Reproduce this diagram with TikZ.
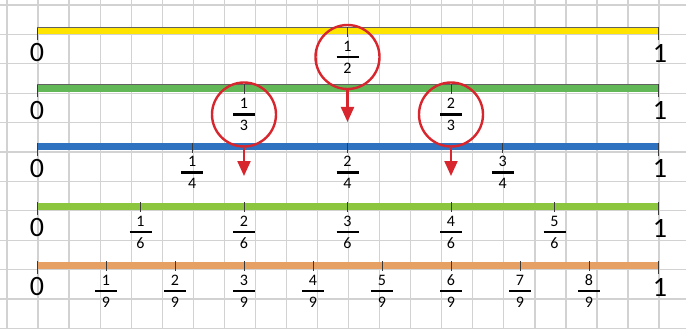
\documentclass[tikz,border=0pt]{standalone}
\usepackage{fontspec}
\setmainfont{Carlito}
\usetikzlibrary{arrows.meta}
\definecolor{gridgray}{HTML}{D2D2D2}
\definecolor{tickgray}{HTML}{3A3A3A}
\definecolor{baryellow}{HTML}{FFE400}
\definecolor{bargreen}{HTML}{62B856}
\definecolor{barblue}{HTML}{2E72C0}
\definecolor{barlime}{HTML}{8CC63F}
\definecolor{barorange}{HTML}{E6A063}
\definecolor{ringred}{HTML}{D7262E}
\newcommand\fracmark[5]{%
  \draw[tickmark] (#1,#2-4) -- (#1,#2+6);
  \node[fraclab] (num-#5) at (#1,#2+15) {#3};
  \draw[fracbar] (#1-11,#2+26) -- (#1+11,#2+26);
  \node[fraclab] (den-#5) at (#1,#2+37) {#4};}
\newcommand\myNumLine[3]{%
  \fill[#2] (37,#1-3.5) rectangle (658,#1+3.5);
  \draw[tickmark] (37,#1-4) -- (37,#1+9);
  \draw[tickmark] (658,#1-4) -- (658,#1+9);
  \node[endlab] (zero-#3) at (37,#1+22) {0};
  \node[endlab] (one-#3) at (660,#1+22) {1};}
\begin{document}
\begin{tikzpicture}[x=1pt,y=-1pt,
  gridline/.style={draw=gridgray,line width=1.3pt},
  endlab/.style={font=\fontsize{28}{28}\selectfont,inner sep=0pt},
  fraclab/.style={font=\fontsize{16}{16}\selectfont,inner sep=0pt},
  fracbar/.style={line width=2.6pt},
  tickmark/.style={draw=tickgray,line width=1pt},
  topedge/.style={draw=tickgray!80,line width=0.9pt},
  ring/.style={draw=ringred,line width=2.4pt,circle,minimum size=64pt,inner sep=0pt},
  pointer/.style={draw=ringred,line width=2.2pt,-{Triangle[length=15pt,width=13pt]}}]
\useasboundingbox (0,0) rectangle (686,329);
\fill[white] (0,0) rectangle (686,329);
% grid
\foreach \i in {0,...,22} \draw[gridline] ({7+31.05*\i},0) -- ({7+31.05*\i},329);
\foreach \j in {0,...,11} \draw[gridline] (0,{5+29.4*\j}) -- (686,{5+29.4*\j});
% number lines
\myNumLine{31}{baryellow}{a}
\draw[topedge] (37,27) -- (658,27);
\myNumLine{88.5}{bargreen}{b}
\draw[topedge] (37,84.7) -- (658,84.7);
\myNumLine{146.5}{barblue}{c}
\myNumLine{206}{barlime}{d}
\myNumLine{265}{barorange}{e}
% halves
\fracmark{347.5}{31}{1}{2}{h1}
% thirds
\fracmark{244}{88.5}{1}{3}{t1}
\fracmark{451}{88.5}{2}{3}{t2}
% quarters
\fracmark{192.25}{146.5}{1}{4}{q1}
\fracmark{347.5}{146.5}{2}{4}{q2}
\fracmark{502.75}{146.5}{3}{4}{q3}
% sixths
\fracmark{140.5}{206}{1}{6}{s1}
\fracmark{244}{206}{2}{6}{s2}
\fracmark{347.5}{206}{3}{6}{s3}
\fracmark{451}{206}{4}{6}{s4}
\fracmark{554.5}{206}{5}{6}{s5}
% ninths
\foreach \k in {1,...,8} {\fracmark{37+69*\k}{265}{\k}{9}{n\k}}
% circles and arrows
\node[ring] (c-half) at (347.5,57) {};
\node[ring] (c-third) at (244,114.5) {};
\node[ring] (c-twothird) at (451,114.5) {};
\coordinate (tip-half) at (347.5,122);
\coordinate (tip-third) at (244,176);
\coordinate (tip-twothird) at (451,176);
\draw[pointer] (c-half.south) -- (tip-half);
\draw[pointer] (c-third.south) -- (tip-third);
\draw[pointer] (c-twothird.south) -- (tip-twothird);
\end{tikzpicture}
\end{document}
